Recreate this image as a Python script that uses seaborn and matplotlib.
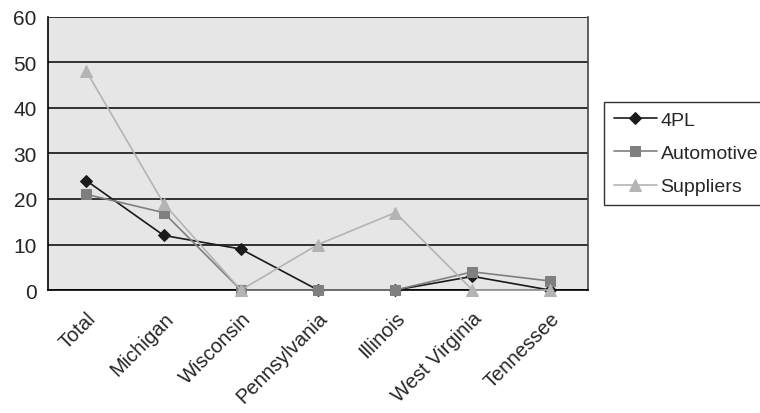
import matplotlib
matplotlib.use("Agg")
import matplotlib.pyplot as plt
import seaborn as sns
import pandas as pd
import numpy as np

categories = ["Total", "Michigan", "Wisconsin", "Pennsylvania", "Illinois", "West Virginia", "Tennessee"]
pl4 = [24, 12, 9, 0, 0, 3, 0]
automotive = [21, 17, 0, 0, 0, 4, 2]
suppliers = [48, 19, 0, 10, 17, 0, 0]
yticks = [0, 10, 20, 30, 40, 50, 60]

sns.set_style("white")
plt.rcParams['font.family'] = ['Liberation Sans', 'DejaVu Sans']

series = {"4PL": pl4, "Automotive": automotive, "Suppliers": suppliers}
rows = []
for name, vals in series.items():
    for i, v in enumerate(vals):
        rows.append({"x": i, "value": v, "series": name})
df = pd.DataFrame(rows)

fig = plt.figure(figsize=(7.6, 4.14), dpi=100)
ax = fig.add_axes([0.063, 0.297, 0.711, 0.66])
ax.set_facecolor("#e6e6e6")

palette = {"4PL": "#1a1a1a", "Automotive": "#7f7f7f", "Suppliers": "#b4b4b4"}
markers = {"4PL": "D", "Automotive": "s", "Suppliers": "^"}
sizes = {"4PL": 6, "Automotive": 7, "Suppliers": 8}
for name in series:
    sub = df[df["series"] == name]
    sns.lineplot(data=sub, x="x", y="value", ax=ax, color=palette[name], marker=markers[name],
                 markersize=sizes[name], markeredgecolor=palette[name], linewidth=1.2, label=name,
                 zorder=3, clip_on=False)

ax.set_xlim(-0.5, len(categories) - 0.5)
ax.set_ylim(0, 60)
ax.set_yticks(yticks)
ax.set_yticklabels([str(t) for t in yticks], fontsize=15)
ax.yaxis.grid(True, color="black", linewidth=1.1)
ax.set_axisbelow(True)
ax.set_xticks(range(len(categories)))
ax.set_xticklabels(categories, rotation=45, ha="right", rotation_mode="anchor", fontsize=14.5)
ax.set_xticks(np.arange(-0.5, len(categories), 1.0), minor=True)
ax.tick_params(axis="x", which="major", length=0, pad=13)
ax.tick_params(axis="x", which="minor", length=6, width=1.2, color="black", direction="out")
ax.tick_params(axis="y", which="major", length=5, width=1.2, color="black", direction="out", pad=3)
ax.set_xlabel("")
ax.set_ylabel("")
for s in ax.spines.values():
    s.set_color("black")
    s.set_linewidth(1.2)
ax.spines["top"].set_visible(False)
ax.spines["right"].set_color("#444444")

leg = ax.legend(loc="upper left", bbox_to_anchor=(0.795, 0.752), bbox_transform=fig.transFigure,
                frameon=True, fancybox=False, edgecolor="black", fontsize=14,
                borderpad=0.5, labelspacing=0.8, handlelength=2.2, handletextpad=0.2,
                borderaxespad=0)
leg.get_frame().set_linewidth(1.0)

fig.savefig("out.png", dpi=100)
